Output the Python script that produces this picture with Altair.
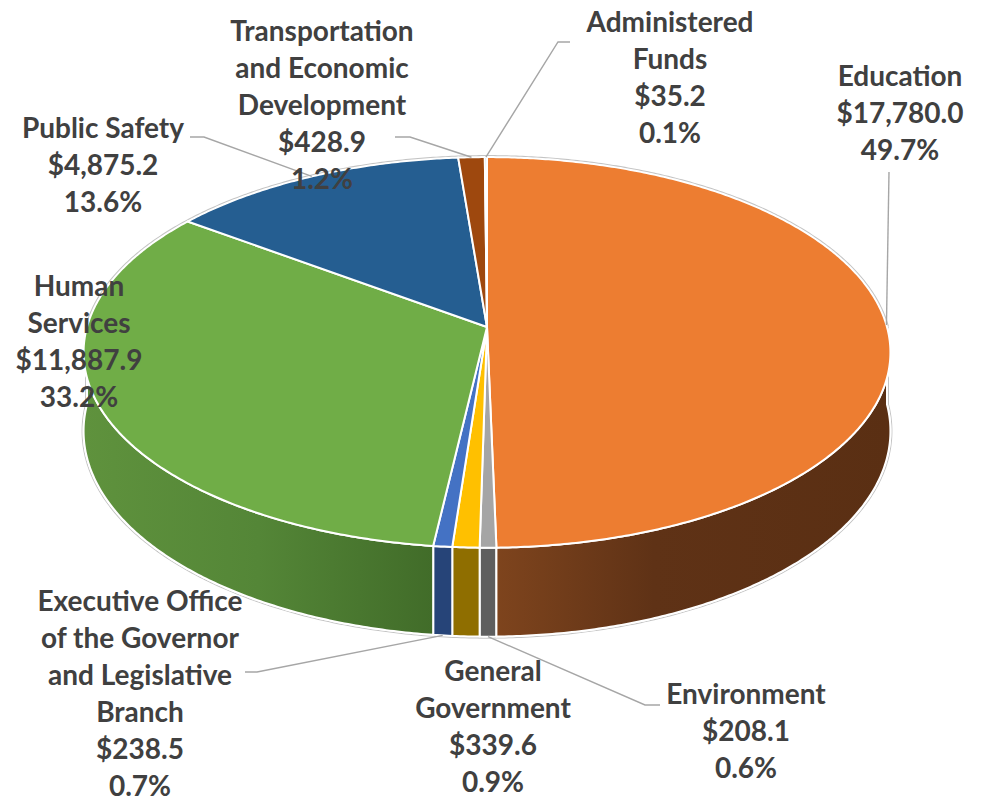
import altair as alt
import numpy as np
import pandas as pd

# ---------------- data ----------------
names = [
    "Education",
    "Environment",
    "General Government",
    "Executive Office of the Governor and Legislative Branch",
    "Human Services",
    "Public Safety",
    "Transportation and Economic Development",
    "Administered Funds",
]
values = [17780.0, 208.1, 339.6, 238.5, 11887.9, 4875.2, 428.9, 35.2]
title_lines = [
    ["Education"],
    ["Environment"],
    ["General", "Government"],
    ["Executive Office", "of the Governor", "and Legislative", "Branch"],
    ["Human", "Services"],
    ["Public Safety"],
    ["Transportation", "and Economic", "Development"],
    ["Administered", "Funds"],
]

# ---------------- styles / layout ----------------
top_colors = ["#ED7D31", "#A5A5A5", "#FFC000", "#4472C4", "#70AD47", "#255E91", "#9E480E", "#5B9BD5"]
side_colors = ["#653517", "#5E5E5E", "#8F6E00", "#264478", "#4D7C31", "#1A4368", "#6E320A", "#3F6E98"]

W, H = 965, 792
CX, CY = 479, 319          # pie centre (chart coords)
A, B, P, DEPTH = 400, 192, 0.13, 77.4

# label anchor: centre of the first text line (chart coords)
label_pos = {
    "Education": (892, 70),
    "Environment": (738, 688),
    "General Government": (485, 665),
    "Executive Office of the Governor and Legislative Branch": (132, 595),
    "Human Services": (71, 280),
    "Public Safety": (95, 122),
    "Transportation and Economic Development": (314, 25),
    "Administered Funds": (662, 16),
}
leader_elbows = {
    "Education": [(881, 164)],
    "Environment": [(652, 697), (637, 697)],
    "Executive Office of the Governor and Legislative Branch": [(237, 664), (249, 664)],
    "Public Safety": [(182, 129), (196, 129)],
    "Transportation and Economic Development": [(387, 129), (402, 129)],
    "Administered Funds": [(562, 34), (550, 34)],
}
leader_bottom = {"Environment", "Executive Office of the Governor and Legislative Branch"}


def proj(theta_deg, depth=0.0):
    t = np.radians(np.asarray(theta_deg, dtype=float))
    s = 1.0 / (1.0 + P * np.cos(t))
    x = CX + A * np.sin(t) * s
    y = CY - B * np.cos(t) * s + depth * s
    return x, y


def arc(t0, t1, depth=0.0):
    n = max(2, int(abs(t1 - t0) / 0.5) + 2)
    th = np.linspace(t0, t1, n)
    return proj(th, depth)


total = sum(values)
ends = 360.0 * np.cumsum(values) / total
starts = np.concatenate([[0.0], ends[:-1]])
mids = (starts + ends) / 2

# ---- top faces ----
top_rows = []
for k, nm in enumerate(names):
    xs, ys = arc(starts[k], ends[k])
    px = [CX] + list(xs) + [CX]
    py = [CY] + list(ys) + [CY]
    for i, (x, y) in enumerate(zip(px, py)):
        top_rows.append({"name": nm, "i": i, "x": x, "y": y})
top_df = pd.DataFrame(top_rows)

# ---- side faces ----
side_rows = []
for k, nm in enumerate(names):
    lo, hi = max(starts[k], 90.0), min(ends[k], 270.0)
    if hi <= lo:
        continue
    x1, y1 = arc(lo, hi, 0.0)
    x2, y2 = arc(hi, lo, DEPTH)
    px = list(x1) + list(x2) + [x1[0]]
    py = list(y1) + list(y2) + [y1[0]]
    for i, (x, y) in enumerate(zip(px, py)):
        side_rows.append({"name": nm, "i": i, "x": x, "y": y})
side_df = pd.DataFrame(side_rows)

# ---- outer outline ----
ox1, oy1 = arc(90, -90, 0.0)
ox2, oy2 = arc(270, 90, DEPTH)
ox = list(ox1) + list(ox2) + [ox1[0]]
oy = list(oy1) + list(oy2) + [oy1[0]]
outline_df = pd.DataFrame({"i": range(len(ox)), "x": ox, "y": oy})

# ---- leaders ----
lead_rows = []
for k, nm in enumerate(names):
    if nm not in leader_elbows:
        continue
    pts = list(leader_elbows[nm])
    ex, ey = proj(mids[k], DEPTH if nm in leader_bottom else 0.0)
    pts.append((float(ex), float(ey)))
    for i, (x, y) in enumerate(pts):
        lead_rows.append({"name": nm, "i": i, "x": x, "y": y})
lead_df = pd.DataFrame(lead_rows)

# ---- labels ----
lab_rows = []
for k, nm in enumerate(names):
    lines = title_lines[k] + [f"${values[k]:,.1f}", f"{100 * values[k] / total:.1f}%"]
    x, y = label_pos[nm]
    lab_rows.append({"name": nm, "x": x, "y": y, "label": "\n".join(lines)})
lab_df = pd.DataFrame(lab_rows)

# ---------------- chart ----------------
X = alt.X("x:Q", scale=alt.Scale(domain=[0, W]), axis=None)
Y = alt.Y("y:Q", scale=alt.Scale(domain=[0, H], reverse=True), axis=None)

outline = alt.Chart(outline_df).mark_line(stroke="#C4C4C4", strokeWidth=4, strokeJoin="round").encode(
    x=X, y=Y, order="i:Q"
)

sides = alt.Chart(side_df).mark_line(stroke="white", strokeWidth=2, strokeJoin="round").encode(
    x=X, y=Y, order="i:Q", detail="name:N",
    fill=alt.Fill("name:N", scale=alt.Scale(domain=names, range=side_colors), legend=None),
)

edu_grad = alt.Gradient(
    gradient="linear", x1=0, x2=1, y1=0, y2=0,
    stops=[alt.GradientStop(color="#7E441D", offset=0),
           alt.GradientStop(color="#5F3216", offset=0.4),
           alt.GradientStop(color="#5A2F13", offset=1)],
)
hs_grad = alt.Gradient(
    gradient="linear", x1=0, x2=1, y1=0, y2=0,
    stops=[alt.GradientStop(color="#5F923D", offset=0),
           alt.GradientStop(color="#548637", offset=0.5),
           alt.GradientStop(color="#416C29", offset=1)],
)
edu_side = alt.Chart(side_df).transform_filter(alt.datum.name == "Education").mark_line(
    stroke="white", strokeWidth=2, strokeJoin="round"
).encode(x=X, y=Y, order="i:Q", fill=alt.value(edu_grad))
hs_side = alt.Chart(side_df).transform_filter(alt.datum.name == "Human Services").mark_line(
    stroke="white", strokeWidth=2, strokeJoin="round"
).encode(x=X, y=Y, order="i:Q", fill=alt.value(hs_grad))

tops = alt.Chart(top_df).mark_line(stroke="white", strokeWidth=2, strokeJoin="round").encode(
    x=X, y=Y, order="i:Q", detail="name:N",
    fill=alt.Fill("name:N", scale=alt.Scale(domain=names, range=top_colors), legend=None),
)

leaders = alt.Chart(lead_df).mark_line(stroke="#A6A6A6", strokeWidth=1.4).encode(
    x=X, y=Y, order="i:Q", detail="name:N"
)

labels = alt.Chart(lab_df).mark_text(
    font="Lato", fontSize=28, fontWeight="bold", color="#404040",
    lineBreak="\n", lineHeight=37.0, align="center", baseline="middle",
).encode(x=X, y=Y, text="label:N")

chart = (
    alt.layer(outline, sides, edu_side, hs_side, tops, leaders, labels)
    .resolve_scale(fill="independent")
    .properties(width=W, height=H, padding=0, autosize="none")
    .configure_view(stroke=None)
)

chart.save("out.html", embed_options={"renderer": "svg", "actions": False})
